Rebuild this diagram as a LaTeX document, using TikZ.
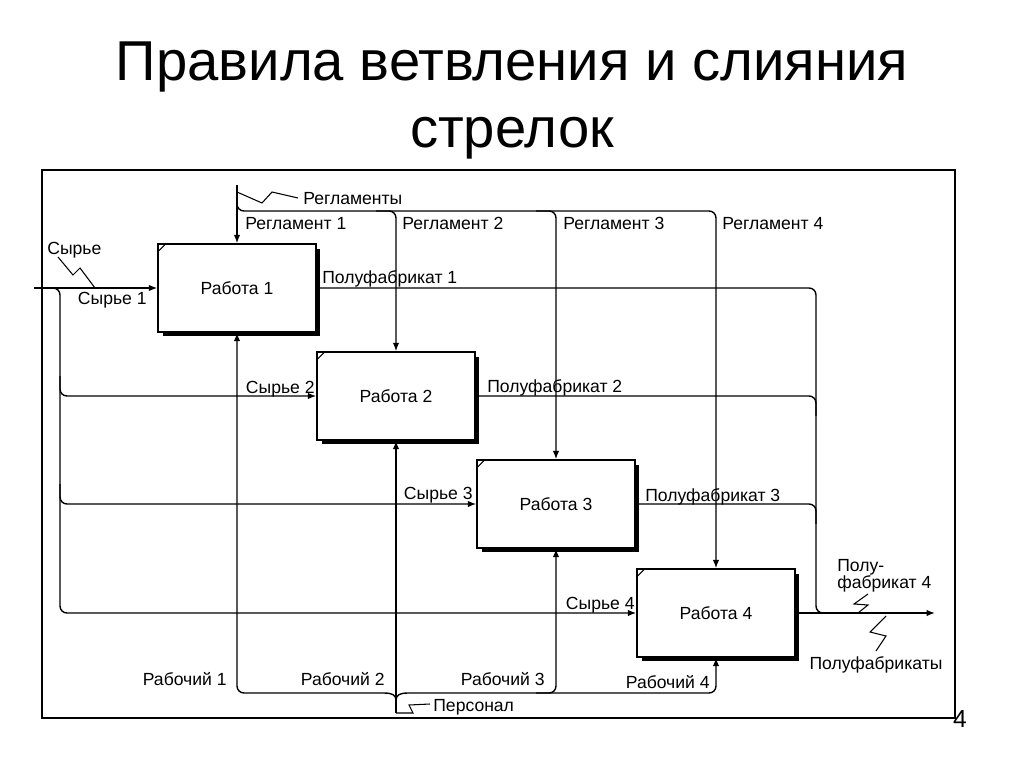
\documentclass[tikz,border=0pt]{standalone}
\usepackage{fontspec}
\setmainfont{Liberation Sans}
\usetikzlibrary{arrows.meta,calc,shadows}
\newcommand\lblfont{\fontsize{10pt}{11.5pt}\selectfont}
\begin{document}
\begin{tikzpicture}[x=0.02cm,y=-0.02cm,
  ln/.style={line width=0.8pt},
  thin ln/.style={line width=0.6pt},
  arr/.style={ln,-{Latex[length=0.17cm,width=0.13cm]}},
  box/.style={draw,line width=0.8pt,fill=white,minimum width=3.16cm,minimum height=1.76cm,font=\lblfont,
    drop shadow={shadow xshift=0.09cm,shadow yshift=-0.09cm,fill=black,opacity=1}},
  lbl/.style={font=\lblfont,inner sep=0pt},
  ttl/.style={font=\fontsize{32pt}{38pt}\selectfont,anchor=base,inner sep=0pt},
  rc/.style={rounded corners=0.14cm}]
\useasboundingbox (0,0) rectangle (1024,767);

% title
\node[ttl] (t1) at (512,81) {Правила ветвления и слияния};
\node[ttl] (t2) at (512,148) {стрелок};

% frame
\draw[line width=1.2pt] (42,170) rectangle (955,718);

% boxes
\node[box] (b1) at (237,288) {Работа 1};
\node[box] (b2) at (396,396) {Работа 2};
\node[box] (b3) at (556,504) {Работа 3};
\node[box] (b4) at (716,613) {Работа 4};
\foreach \b in {b1,b2,b3,b4}
  \draw[thin ln] ($(\b.north west)+(0,9)$) -- ($(\b.north west)+(9,0)$);

% inputs
\coordinate (sin) at (34,288);
\coordinate (sj) at (48,288);
\coordinate (sx) at (60,288);
\draw[arr] (sin) -- (b1.west);
\draw[arr,rc] (sj) -- (sx) -- (sx |- b4.west) -- (b4.west);
\draw[arr,rc] ($(sx |- b2.west)+(0,-20)$) -- (sx |- b2.west) -- (b2.west);
\draw[arr,rc] ($(sx |- b3.west)+(0,-20)$) -- (sx |- b3.west) -- (b3.west);
\draw[thin ln] (58,257) -- (73,275) -- (80,268) -- (95,288);

% controls
\coordinate (regtop) at (237,185);
\coordinate (bus) at (237,211);
\draw[arr] (regtop) -- (b1.north);
\draw[arr,rc] ($(bus)+(0,-10)$) -- (bus) -- (bus -| b4.north) -- (b4.north);
\draw[arr,rc] ($(bus -| b2.north)+(-20,0)$) -- (bus -| b2.north) -- (b2.north);
\draw[arr,rc] ($(bus -| b3.north)+(-20,0)$) -- (bus -| b3.north) -- (b3.north);
\draw[thin ln] (237,192) -- (262,203) -- (272,192) -- (298,198);

% outputs
\coordinate (ox) at (816,288);
\coordinate (oend) at (935,613);
\draw[arr] (b4.east) -- (oend);
\draw[ln,rc] (b1.east) -- (ox |- b1.east) -- (ox |- b4.east) -- ($(ox |- b4.east)+(20,0)$);
\draw[ln,rc] (b2.east) -- (ox |- b2.east) -- ($(ox |- b2.east)+(0,20)$);
\draw[ln,rc] (b3.east) -- (ox |- b3.east) -- ($(ox |- b3.east)+(0,20)$);
\draw[thin ln] (868,594) -- (854,604) -- (868,605) -- (858,613);
\draw[thin ln] (886,616) -- (870,632) -- (886,636) -- (876,651);

% mechanisms
\coordinate (mb) at (396,693);
\coordinate (pers) at (396,713);
\draw[arr] (pers) -- (b2.south);
\draw[ln] ($(mb)+(-12,0)$) .. controls ($(mb)+(-4,0)$) and ($(mb)+(0,2)$) .. ($(mb)+(0,7)$);
\draw[ln] ($(mb)+(12,0)$) .. controls ($(mb)+(4,0)$) and ($(mb)+(0,2)$) .. ($(mb)+(0,7)$);
\draw[arr,rc] ($(mb)+(-12,0)$) -- (mb -| b1.south) -- (b1.south);
\draw[arr,rc] ($(mb)+(12,0)$) -- (mb -| b4.south) -- (b4.south);
\draw[arr,rc] ($(mb -| b3.south)+(-20,0)$) -- (mb -| b3.south) -- (b3.south);
\draw[thin ln] (pers) -- ++(17,0) -- ++(-4,-8) -- ++(21,-1);

% labels (baselines)
\node[lbl,anchor=base west] (lsyr) at (47,254) {Сырье};
\node[lbl,anchor=base east] (ls1) at (147,304) {Сырье 1};
\node[lbl,anchor=base east] (ls2) at (315,393) {Сырье 2};
\node[lbl,anchor=base east] (ls3) at (473,499) {Сырье 3};
\node[lbl,anchor=base east] (ls4) at (635,609) {Сырье 4};
\node[lbl,anchor=base west] (lregs) at (303,204) {Регламенты};
\node[lbl,anchor=base west] (lr1) at (245,229) {Регламент 1};
\node[lbl,anchor=base west] (lr2) at (402,229) {Регламент 2};
\node[lbl,anchor=base west] (lr3) at (563,229) {Регламент 3};
\node[lbl,anchor=base west] (lr4) at (722,229) {Регламент 4};
\node[lbl,anchor=base west] (lp1) at (322,283) {Полуфабрикат 1};
\node[lbl,anchor=base west] (lp2) at (487,392) {Полуфабрикат 2};
\node[lbl,anchor=base west] (lp3) at (645,501) {Полуфабрикат 3};
\node[lbl,anchor=base west] (lp4a) at (837,571) {Полу-};
\node[lbl,anchor=base west] (lp4b) at (837,588) {фабрикат 4};
\node[lbl,anchor=base] (lpf) at (876,669) {Полуфабрикаты};
\node[lbl,anchor=base east] (lw1) at (227,685) {Рабочий 1};
\node[lbl,anchor=base east] (lw2) at (385,685) {Рабочий 2};
\node[lbl,anchor=base east] (lw3) at (545,685) {Рабочий 3};
\node[lbl,anchor=base east] (lw4) at (710,688) {Рабочий 4};
\node[lbl,anchor=base west] (lpers) at (433,711) {Персонал};
\node[font=\fontsize{14pt}{16pt}\selectfont,inner sep=0pt,anchor=base] (pg) at (960,727) {4};
\end{tikzpicture}
\end{document}
